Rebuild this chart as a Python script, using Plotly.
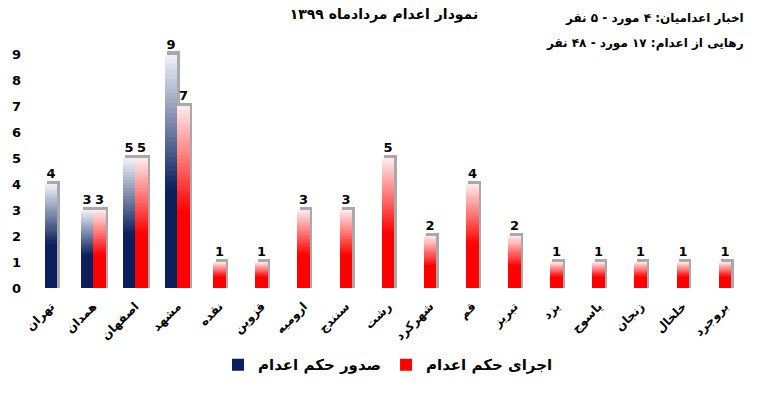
import plotly.graph_objects as go

# ---- data ----
categories = ['تهران', 'همدان', 'اصفهان', 'مشهد', 'نقده', 'قزوین', 'ارومیه', 'سنندج', 'رشت',
              'شهرکرد', 'قم', 'تبریز', 'یزد', 'یاسوج', 'زنجان', 'خلخال', 'بروجرد']
issued = [4, 3, 5, 9, None, None, None, None, None, None, None, None, None, None, None, None, None]
executed = [None, 3, 5, 7, 1, 1, 3, 3, 5, 2, 4, 2, 1, 1, 1, 1, 1]
series_names = ['صدور حکم اعدام', 'اجرای حکم اعدام']
title_text = 'نمودار اعدام مردادماه ۱۳۹۹'
note_lines = ['اخبار اعدامیان: ۴ مورد - ۵ نفر', 'رهایی از اعدام: ۱۷ مورد - ۴۸ نفر']

# ---- styling ----
BAR_W = 0.3
N_LAYERS = 48
FONT = 'DejaVu Sans'
BLUE_DARK, BLUE_LIGHT = (10, 31, 92), (240, 243, 250)
RED_DARK, RED_LIGHT = (255, 0, 0), (255, 236, 236)


def mix(c1, c2, t):
    return 'rgb(%d,%d,%d)' % tuple(round(a + (b - a) * t) for a, b in zip(c1, c2))


def grad(f, dark, light, knee=0.42):
    if f <= knee:
        return mix(dark, light, 0)
    return mix(dark, light, (f - knee) / (1 - knee))


def offsets(mine, other, first):
    out = []
    for a, b in zip(mine, other):
        if b is None:
            out.append(-BAR_W / 2)
        else:
            out.append(-BAR_W if first else 0)
    return out


fig = go.Figure()

specs = [
    (issued, executed, True, BLUE_DARK, BLUE_LIGHT, series_names[0], 1),
    (executed, issued, False, RED_DARK, RED_LIGHT, series_names[1], 2),
]

# 3D side/top faces (drawn first, behind)
for vals, other, first, dark, light, name, rank in specs:
    offs = offsets(vals, other, first)
    fig.add_trace(go.Bar(
        x=categories, y=[v + 0.12 if v is not None else None for v in vals],
        offset=[o + 0.055 for o in offs], width=BAR_W,
        marker=dict(color='#a9a9a9', line=dict(width=0)),
        showlegend=False, hoverinfo='skip'))

# gradient layers
for vals, other, first, dark, light, name, rank in specs:
    offs = offsets(vals, other, first)
    for k in range(N_LAYERS):
        f = 1 - k / N_LAYERS
        fmid = f - 0.5 / N_LAYERS
        is_top = k == 0
        is_last = k == N_LAYERS - 1
        fig.add_trace(go.Bar(
            x=categories,
            y=[v * f if v is not None else None for v in vals],
            offset=offs, width=BAR_W,
            marker=dict(color=grad(fmid, dark, light), line=dict(width=0)),
            text=[str(v) if v is not None else '' for v in vals] if is_top else None,
            textposition='outside' if is_top else 'none',
            textfont=dict(family=FONT, size=13, color='black', weight='bold'),
            cliponaxis=False,
            name=name, showlegend=is_last, legendrank=rank,
            hoverinfo='skip'))

fig.update_layout(
    width=768, height=393,
    barmode='overlay',
    plot_bgcolor='white', paper_bgcolor='white',
    margin=dict(l=30, r=22, t=40, b=98),
    font=dict(family=FONT, size=12, color='black'),
    title=dict(text='<b>%s</b>' % title_text, x=0.5, xanchor='center', y=0.965, yanchor='middle',
               font=dict(family=FONT, size=14, color='black')),
    xaxis=dict(type='category', tickangle=-45, showgrid=False, showline=False, ticks='',
               ticklabelstandoff=8,
               tickfont=dict(family=FONT, size=12, color='black', weight='bold'),
               range=[-0.5, len(categories) - 0.5]),
    yaxis=dict(range=[0, 9.56], tickvals=list(range(10)), showgrid=False, zeroline=False,
               showline=False, ticks='', ticklabelstandoff=8,
               tickfont=dict(family=FONT, size=13, color='black', weight='bold')),
    legend=dict(orientation='h', x=0.5, xanchor='center', y=-0.31, yanchor='middle',
                font=dict(family=FONT, size=15, color='black', weight='bold'),
                itemwidth=30, traceorder='normal'),
    bargap=0,
    annotations=[
        dict(text='<b>%s</b>' % note_lines[0], xref='paper', yref='paper', x=1.0, y=1.086,
             xanchor='right', yanchor='middle', showarrow=False,
             font=dict(family=FONT, size=12, color='black')),
        dict(text='<b>%s</b>' % note_lines[1], xref='paper', yref='paper', x=1.0, y=0.984,
             xanchor='right', yanchor='middle', showarrow=False,
             font=dict(family=FONT, size=12, color='black')),
    ],
)

fig.write_html('out.html')
